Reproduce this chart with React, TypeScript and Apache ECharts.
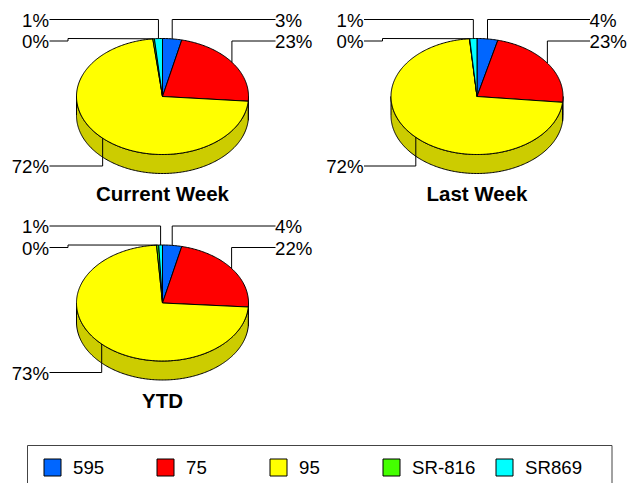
import React, { useEffect, useRef } from "react";
import * as echarts from "echarts";

const pieTitles = ["Current Week", "Last Week", "YTD"];
const categories = ["595", "75", "95", "SR-816", "SR869"];
const colors = ["#0066FF", "#FF0000", "#FFFF00", "#44FF00", "#00FFFF"];
const wallColors = ["#0052CC", "#CC0000", "#CCCC00", "#36CC00", "#00CCCC"];

// share of each pie, in pie order
const values595 = [3.6, 3.9, 3.6];
const values75 = [22.7, 22.7, 22.5];
const values95 = [71.9, 72.0, 72.8];
const valuesSR816 = [0.3, 0.05, 0.4];
const valuesSR869 = [1.5, 1.35, 0.7];
const seriesValues = [values595, values75, values95, valuesSR816, valuesSR869];

// the percentages printed on the chart
const labels595 = ["3%", "4%", "4%"];
const labels75 = ["23%", "23%", "22%"];
const labels95 = ["72%", "72%", "73%"];
const labelsSR816 = ["0%", "0%", "0%"];
const labelsSR869 = ["1%", "1%", "1%"];
const seriesLabels = [labels595, labels75, labels95, labelsSR816, labelsSR869];

const centers = [
  [162.5, 96.5],
  [477, 96.5],
  [162.5, 303],
];
const RX = 86;
const RY = 58;
const DEPTH = 19;
const LABEL_DX = 113;
const FONT = "Arial, 'Liberation Sans', sans-serif";
const legendLeft = [43.5, 156.5, 269.5, 382.5, 495.5];

// leader routing by category: side and horizontal row relative to pie centre
const leaderRows = [-77, -55.5, 69.5, -55.5, -77];
const leaderSide = [1, 1, -1, -1, -1];

function startOf(seriesIndex: number, pie: number) {
  let s = 0;
  for (let i = 0; i < seriesIndex; i++) s += seriesValues[i][pie];
  return s;
}

function rim(cx: number, cy: number, from: number, to: number, dy = 0) {
  const pts: number[][] = [];
  const a = (from / 100) * Math.PI * 2;
  const b = (to / 100) * Math.PI * 2;
  const n = Math.max(2, Math.ceil(((b - a) * 180) / Math.PI));
  for (let i = 0; i <= n; i++) {
    const t = a + ((b - a) * i) / n;
    pts.push([cx + RX * Math.sin(t), cy - RY * Math.cos(t) + dy]);
  }
  return pts;
}

function renderSlice(seriesIndex: number) {
  return (params: any) => {
    const pie = params.dataIndex;
    const value = seriesValues[seriesIndex][pie];
    const [cx, cy] = centers[pie];
    const from = startOf(seriesIndex, pie);
    const to = from + value;
    const children: any[] = [];

    // side wall: only the part of the rim that faces the viewer (25%..75%)
    const wf = Math.max(from, 25);
    const wt = Math.min(to, 75);
    if (wt > wf) {
      const top = rim(cx, cy, wf, wt);
      const bottom = rim(cx, cy, wf, wt, DEPTH).reverse();
      children.push({
        type: "polygon",
        shape: { points: top.concat(bottom) },
        style: { fill: wallColors[seriesIndex], stroke: "#000", lineWidth: 1, lineJoin: "round" },
        z2: 1,
      });
    }

    // top face
    children.push({
      type: "polygon",
      shape: { points: [[cx, cy]].concat(rim(cx, cy, from, to)) },
      style: { fill: colors[seriesIndex], stroke: "#000", lineWidth: 1, lineJoin: "round" },
      z2: 2,
    });

    // leader line and percentage
    const mid = ((from + to) / 2 / 100) * Math.PI * 2;
    const ax = cx + RX * Math.sin(mid);
    const ay = cy - RY * Math.cos(mid);
    const side = leaderSide[seriesIndex];
    const rowY = cy + leaderRows[seriesIndex];
    const endX = cx + side * LABEL_DX;
    const pts =
      seriesIndex === 3
        ? [[ax, ay], [cx - 94.5, cy - 58], [cx - 94.5, rowY], [endX, rowY]]
        : [[ax, ay], [ax, rowY], [endX, rowY]];
    children.push({
      type: "polyline",
      shape: { points: pts },
      style: { fill: "none", stroke: "#000", lineWidth: 1 },
      z2: 3,
    });
    children.push({
      type: "text",
      style: {
        text: seriesLabels[seriesIndex][pie],
        x: side > 0 ? endX - 0.5 : endX - 0.5,
        y: rowY + 0.5,
        align: side > 0 ? "left" : "right",
        verticalAlign: "middle",
        fontSize: 18.67,
        fontFamily: FONT,
        fill: "#000",
      },
      z2: 4,
    });
    return { type: "group", children };
  };
}

export default function App() {
  const ref = useRef<HTMLDivElement>(null);
  useEffect(() => {
    const chart = echarts.init(ref.current!, undefined, { renderer: "svg" });
    chart.setOption({
      animation: false,
      backgroundColor: "#fff",
      title: pieTitles.map((text, i) => ({
        text,
        left: centers[i][0],
        top: centers[i][1] + 86.5,
        textAlign: "center",
        padding: 0,
        textStyle: { fontSize: 20.5, fontWeight: "bold", fontFamily: FONT, color: "#000" },
      })),
      legend: categories.map((name, i) => ({
        data: [name],
        left: legendLeft[i],
        top: 458,
        padding: 0,
        icon: "rect",
        itemWidth: 17,
        itemHeight: 17,
        itemStyle: { borderColor: "#000", borderWidth: 1 },
        textStyle: { fontSize: 18.67, fontFamily: FONT, color: "#000", padding: [0, 0, 0, 7] },
        selectedMode: false,
      })),
      graphic: [
        {
          type: "rect",
          shape: { x: 27.5, y: 445.5, width: 584.5, height: 60 },
          style: { fill: "none", stroke: "#444", lineWidth: 1 },
          silent: true,
        },
      ],
      series: categories.map((name, i) => ({
        type: "custom",
        name,
        coordinateSystem: "none",
        itemStyle: { color: colors[i] },
        data: seriesValues[i].map((v) => [v]),
        renderItem: renderSlice(i),
        silent: true,
      })),
    });
    return () => chart.dispose();
  }, []);
  return (
    <div
      ref={ref}
      style={{ position: "absolute", left: 0, top: 0, width: 629, height: 483 }}
    />
  );
}
